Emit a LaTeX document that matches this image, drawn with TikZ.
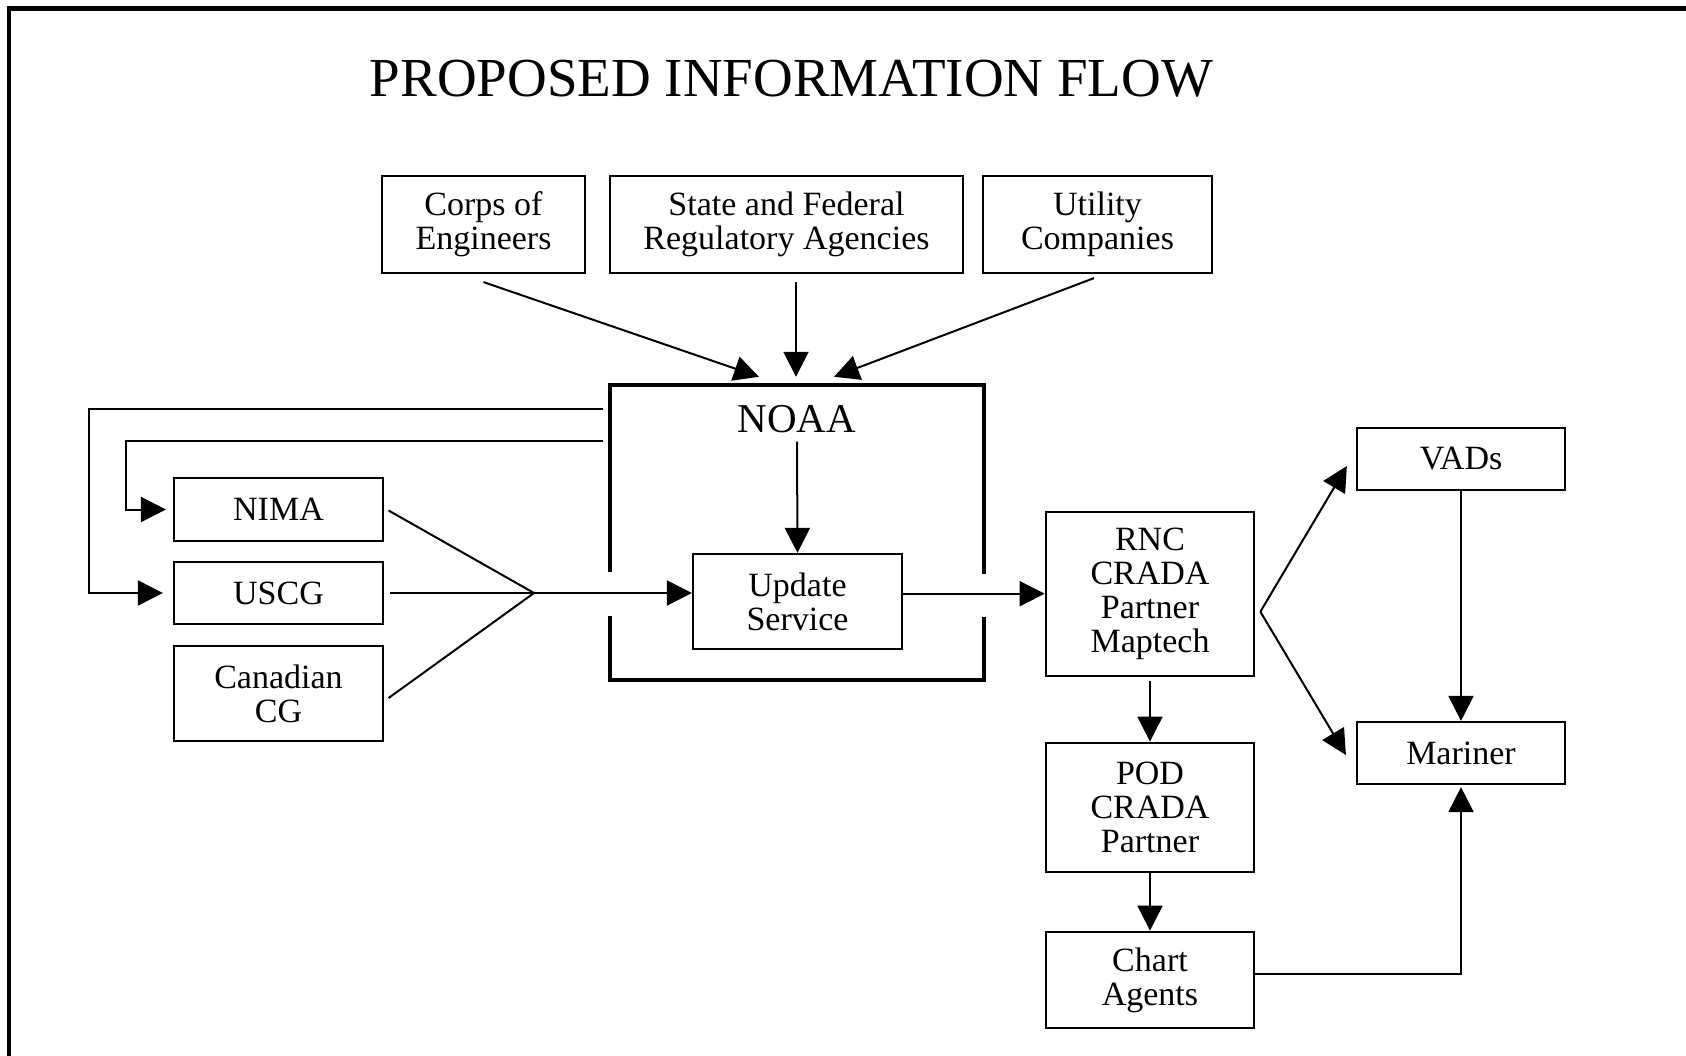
\documentclass[tikz,border=0pt]{standalone}
\usepackage{fontspec}
\setmainfont{Liberation Serif}
\usetikzlibrary{arrows.meta}
\begin{document}
\begin{tikzpicture}[x=1pt,y=-1pt,
  box/.style={draw, line width=2.2pt, rectangle, inner sep=0pt, align=center, font=\fontsize{34}{34}\selectfont},
  conn/.style={line width=2pt},
  arr/.style={conn, -{Triangle[length=25pt,width=25pt]}},
  frame/.style={line width=4.4pt}]
\useasboundingbox (0,0) rectangle (1686,1056);
\draw[frame] (1690,8.5) -- (9,8.5) -- (9,1060);
\node[font=\fontsize{55}{55}\selectfont, inner sep=0pt, anchor=base] (title) at (791.5,97) {PROPOSED INFORMATION FLOW};
% top sources
\node[box, minimum width=203pt, minimum height=97pt] (corps) at (483.5,224.5) {Corps of\\Engineers};
\node[box, minimum width=353pt, minimum height=97pt] (state) at (786.5,224.5) {State and Federal\\Regulatory Agencies};
\node[box, minimum width=229pt, minimum height=97pt] (utility) at (1097.5,224.5) {Utility\\Companies};
% NOAA
\node[inner sep=0pt, minimum width=374pt, minimum height=295pt] (noaa) at (797,532.5) {};
\draw[frame] (610,572) -- (610,385) -- (984,385) -- (984,574);
\draw[frame] (610,616) -- (610,680) -- (984,680) -- (984,617);
\node[font=\fontsize{41}{41}\selectfont, inner sep=0pt, anchor=base] (noaalbl) at (797,432) {NOAA};
\node[box, minimum width=209pt, minimum height=95pt] (update) at (797.5,601.5) {Update\\Service};
% left
\node[box, minimum width=209pt, minimum height=63pt] (nima) at (278.5,509.5) {NIMA};
\node[box, minimum width=209pt, minimum height=62pt] (uscg) at (278.5,593) {USCG};
\node[box, minimum width=209pt, minimum height=95pt] (cancg) at (278.5,693.5) {Canadian\\CG};
% right
\node[box, minimum width=208.5pt, minimum height=164pt] (rnc) at (1150,593.7) {RNC\\CRADA\\Partner\\Maptech};
\node[box, minimum width=208.5pt, minimum height=129.6pt] (pod) at (1150,807.5) {POD\\CRADA\\Partner};
\node[box, minimum width=208.5pt, minimum height=96.6pt] (chart) at (1150,980) {Chart\\Agents};
\node[box, minimum width=208pt, minimum height=62pt] (vads) at (1461,459) {VADs};
\node[box, minimum width=208pt, minimum height=62pt] (mariner) at (1461,753) {Mariner};
% connectors
\draw[arr] ([yshift=-8pt]corps.south) -- ([xshift=-38pt,yshift=8pt]noaa.north);
\draw[arr] ([xshift=9.5pt,yshift=-8pt]state.south) -- ([xshift=-1pt,yshift=8pt]noaa.north);
\draw[arr] ([xshift=-3.5pt,yshift=-4pt]utility.south) -- ([xshift=37pt,yshift=8pt]noaa.north);
\draw[arr] ([yshift=-9pt]noaalbl.south) -- (update.north);
\draw[arr, shorten >=10pt] ([xshift=-7pt,yshift=-24pt]noaa.north west) -- ++(-514,0) |- (uscg.west);
\draw[arr, shorten >=7pt] ([xshift=-7pt,yshift=-56pt]noaa.north west) -- ++(-477,0) |- (nima.west);
\coordinate (j1) at (534,593);
\draw[conn] ([xshift=4.5pt,yshift=-1pt]nima.east) -- (j1);
\draw[conn] ([xshift=6pt]uscg.east) -- (j1);
\draw[conn] ([xshift=4.5pt,yshift=-4.5pt]cancg.east) -- (j1);
\draw[arr] (j1) -- (j1 -| update.west);
\draw[arr] (rnc.west -| update.east) -- (rnc.west);
\coordinate (rv) at ([xshift=5pt,yshift=-18pt]rnc.east);
\draw[arr] (rv) -- ([xshift=-9pt,yshift=-7pt]vads.west);
\draw[arr] (rv) -- ([xshift=-10pt,yshift=-2pt]mariner.west);
\draw[arr] (vads.south) -- (mariner.north);
\draw[arr] ([yshift=-4pt]rnc.south) -- (pod.north);
\draw[arr] (pod.south) -- (chart.north);
\draw[arr] ([yshift=6pt]chart.east) -| ([yshift=-2pt]mariner.south);
\end{tikzpicture}
\end{document}
